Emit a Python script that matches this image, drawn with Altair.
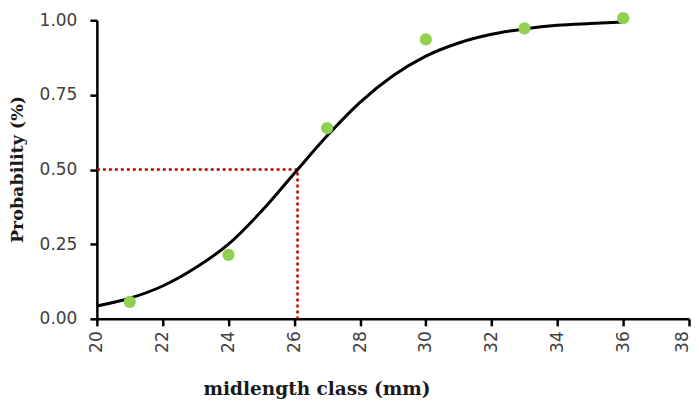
import altair as alt
import pandas as pd

# observed proportions by midlength class
obs_x = [21, 24, 27, 30, 33, 36]
obs_y = [0.057, 0.214, 0.639, 0.936, 0.973, 1.007]

# fitted curve
curve_x = [20, 21, 22, 23, 24, 25, 26, 27, 28, 29, 30, 31, 32, 33, 34, 35, 36]
curve_y = [0.043, 0.069, 0.110, 0.171, 0.250, 0.360, 0.487, 0.613, 0.725, 0.814,
           0.880, 0.924, 0.953, 0.971, 0.983, 0.989, 0.994]

# L50 guide lines
l50_x = [20, 26.1, 26.1]
l50_y = [0.5, 0.5, 0.0]

obs = pd.DataFrame({"x": obs_x, "y": obs_y})
curve = pd.DataFrame({"x": curve_x, "y": curve_y})
guide = pd.DataFrame({"x": l50_x, "y": l50_y, "o": [0, 1, 2]})

xs = alt.Scale(domain=[20, 38], nice=False, zero=False)
ys = alt.Scale(domain=[0, 1], nice=False)

xaxis = alt.Axis(
    title="midlength class (mm)", values=list(range(20, 39, 2)), labelAngle=270,
    labelAlign="right", labelBaseline="middle", format="d", labelPadding=5,
    labelOffset={"condition": {"test": "datum.value == 38", "value": -7}, "value": 0},
    titleX=220, titleY=70, titleAnchor="middle", titleAlign="center", titleBaseline="middle",
    titleFontSize=18.5,
)
yaxis = alt.Axis(
    title="Probability (%)", values=[0, 0.25, 0.5, 0.75, 1.0], format=".2f", labelPadding=13,
    titleX=-79, titleY=149, titleAngle=270, titleAnchor="middle", titleAlign="center",
    titleBaseline="middle", titleFontSize=17.5,
)

line = alt.Chart(curve).mark_line(color="black", strokeWidth=3, interpolate="monotone").encode(
    x=alt.X("x:Q", scale=xs, axis=xaxis),
    y=alt.Y("y:Q", scale=ys, axis=yaxis),
)
g = alt.Chart(guide).mark_line(color="#C00000", strokeWidth=2.5, strokeDash=[3, 3]).encode(
    x=alt.X("x:Q", scale=xs), y=alt.Y("y:Q", scale=ys), order="o:Q"
)
pts = alt.Chart(obs).mark_circle(color="#92D050", opacity=1, size=150).encode(
    x=alt.X("x:Q", scale=xs), y=alt.Y("y:Q", scale=ys)
)

chart = alt.layer(g, line, pts).properties(
    width=593, height=299,
    autosize=alt.AutoSizeParams(type="none"),
    padding={"left": 89, "top": 12, "right": 2, "bottom": 86},
).configure_view(
    stroke=None
).configure_axis(
    grid=False, domainColor="black", domainWidth=2.5, tickColor="black", tickWidth=2.5,
    tickSize=7, labelFont="DejaVu Sans", labelFontSize=17, labelColor="#404040",
    titleFont="DejaVu Serif", titleFontWeight="bold", titleColor="#1a1a1a",
)

chart.save("out.html", embed_options={"renderer": "svg", "actions": False})
